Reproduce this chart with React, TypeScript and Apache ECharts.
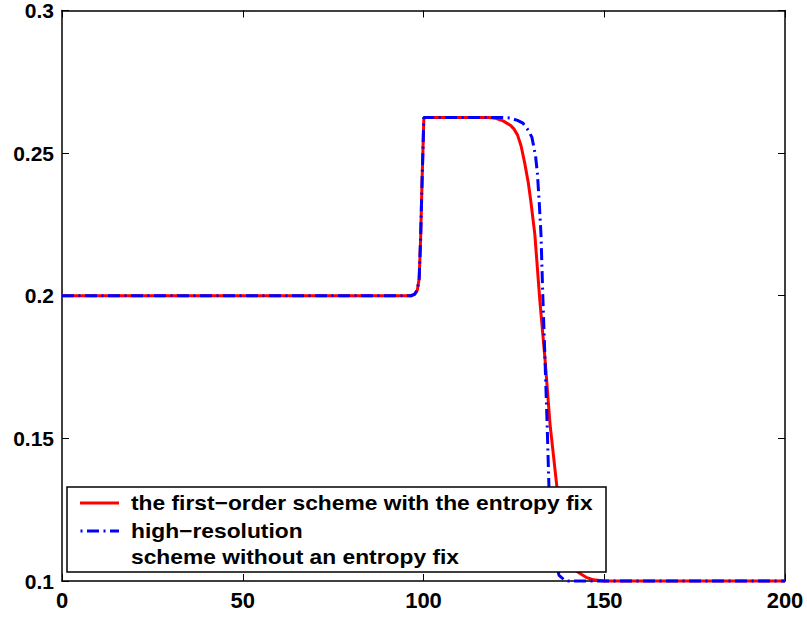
import React, { useEffect, useRef } from "react";
import * as echarts from "echarts";

const xTicks = [0, 50, 100, 150, 200];
const yTicks = [0.1, 0.15, 0.2, 0.25, 0.3];

const redName = "the first\u2212order scheme with the entropy fix";
const blueName = "high\u2212resolution";
const blueName2 = "scheme without an entropy fix";

const redX = [0, 96.5, 97.5, 98.3, 98.8, 99.2, 99.6, 100.1, 118, 120, 122, 124, 125, 126, 127, 128, 129, 129.7, 130.8, 132.2, 133.6, 135, 136.9, 138, 139, 140, 141, 142, 143.3, 145, 147, 150, 200];
const redY = [0.2, 0.2, 0.2005, 0.202, 0.206, 0.22, 0.24, 0.2625, 0.2625, 0.2622, 0.2613, 0.2598, 0.2585, 0.2564, 0.2525, 0.2465, 0.2395, 0.233, 0.2215, 0.198, 0.178, 0.155, 0.133, 0.121, 0.1135, 0.1085, 0.1055, 0.1038, 0.1026, 0.1013, 0.1004, 0.1, 0.1];

const blueX = [0, 96.5, 97.5, 98.3, 98.8, 99.2, 99.6, 100.1, 122, 124, 126, 127.5, 129, 130, 131, 131.5, 132, 132.5, 133, 133.6, 134.2, 134.7, 135.5, 136.5, 137.5, 139, 140, 200];
const blueY = [0.2, 0.2, 0.2005, 0.202, 0.206, 0.22, 0.24, 0.2625, 0.2625, 0.2623, 0.2615, 0.2605, 0.258, 0.2555, 0.249, 0.243, 0.233, 0.2215, 0.2, 0.178, 0.155, 0.133, 0.118, 0.107, 0.102, 0.1003, 0.1, 0.1];

const FONT = "Liberation Sans";

export default function App() {
  const ref = useRef<HTMLDivElement>(null);
  useEffect(() => {
    if (!ref.current) return;
    const chart = echarts.init(ref.current, undefined, { renderer: "svg" });
    const redData = redX.map((x, i) => [x, redY[i]]);
    const blueData = blueX.map((x, i) => [x, blueY[i]]);
    const axisLine = { show: true, onZero: false, lineStyle: { color: "#000", width: 1.5 } };
    const tickIn = { show: true, inside: true, length: 7, lineStyle: { color: "#000", width: 1 } };
    const labelStyle = {
      color: "#000",
      fontWeight: "bold" as const,
      fontFamily: FONT,
    };
    const legendFont = `bold 20px "${FONT}"`;
    chart.setOption({
      animation: false,
      backgroundColor: "#fff",
      grid: { left: 62, right: 22, top: 8, bottom: 36, containLabel: false },
      xAxis: [
        {
          type: "value",
          min: xTicks[0],
          max: xTicks[xTicks.length - 1],
          interval: xTicks[1] - xTicks[0],
          position: "bottom",
          axisLine,
          axisTick: tickIn,
          splitLine: { show: false },
          axisLabel: { ...labelStyle, fontSize: 22, margin: 8, formatter: (v: number) => String(v) },
        },
        {
          type: "value",
          min: xTicks[0],
          max: xTicks[xTicks.length - 1],
          interval: xTicks[1] - xTicks[0],
          position: "top",
          axisLine,
          axisTick: tickIn,
          splitLine: { show: false },
          axisLabel: { show: false },
        },
      ],
      yAxis: [
        {
          type: "value",
          min: yTicks[0],
          max: yTicks[yTicks.length - 1],
          interval: 0.05,
          position: "left",
          axisLine,
          axisTick: tickIn,
          splitLine: { show: false },
          axisLabel: {
            ...labelStyle,
            fontSize: 21,
            margin: 8,
            formatter: (v: number) => String(Math.round(v * 100) / 100),
          },
        },
        {
          type: "value",
          min: yTicks[0],
          max: yTicks[yTicks.length - 1],
          interval: 0.05,
          position: "right",
          axisLine,
          axisTick: tickIn,
          splitLine: { show: false },
          axisLabel: { show: false },
        },
      ],
      series: [
        {
          name: redName,
          type: "line",
          data: redData,
          showSymbol: false,
          clip: false,
          lineStyle: { color: "#ff0000", width: 3 },
          z: 2,
        },
        {
          name: blueName,
          type: "line",
          data: blueData,
          showSymbol: false,
          clip: false,
          lineStyle: { color: "#0000ff", width: 3, type: [12, 4.5, 2, 4.5] },
          z: 3,
        },
      ],
      graphic: [
        {
          type: "group",
          z: 100,
          children: [
            {
              type: "rect",
              shape: { x: 67, y: 487, width: 539, height: 85 },
              style: { fill: "#fff", stroke: "#000", lineWidth: 1.5 },
              z: 100,
            },
            {
              type: "line",
              shape: { x1: 80, y1: 503, x2: 119, y2: 503 },
              style: { stroke: "#ff0000", lineWidth: 3 },
              z: 101,
            },
            {
              type: "line",
              shape: { x1: 80.5, y1: 531, x2: 119, y2: 531 },
              style: { stroke: "#0000ff", lineWidth: 3, lineDash: [2, 4.5, 12, 4.5] },
              z: 101,
            },
            {
              type: "text",
              x: 131,
              y: 503,
              scaleX: 1.14,
              style: { text: redName, fill: "#000", font: legendFont, verticalAlign: "middle" },
              z: 101,
            },
            {
              type: "text",
              x: 131,
              y: 531,
              scaleX: 1.14,
              style: { text: blueName, fill: "#000", font: legendFont, verticalAlign: "middle" },
              z: 101,
            },
            {
              type: "text",
              x: 131,
              y: 557,
              scaleX: 1.14,
              style: { text: blueName2, fill: "#000", font: legendFont, verticalAlign: "middle" },
              z: 101,
            },
          ],
        },
      ],
    });
    return () => chart.dispose();
  }, []);
  return (
    <div
      ref={ref}
      style={{ position: "fixed", left: 0, top: 0, width: 807, height: 617, background: "#fff" }}
    />
  );
}
